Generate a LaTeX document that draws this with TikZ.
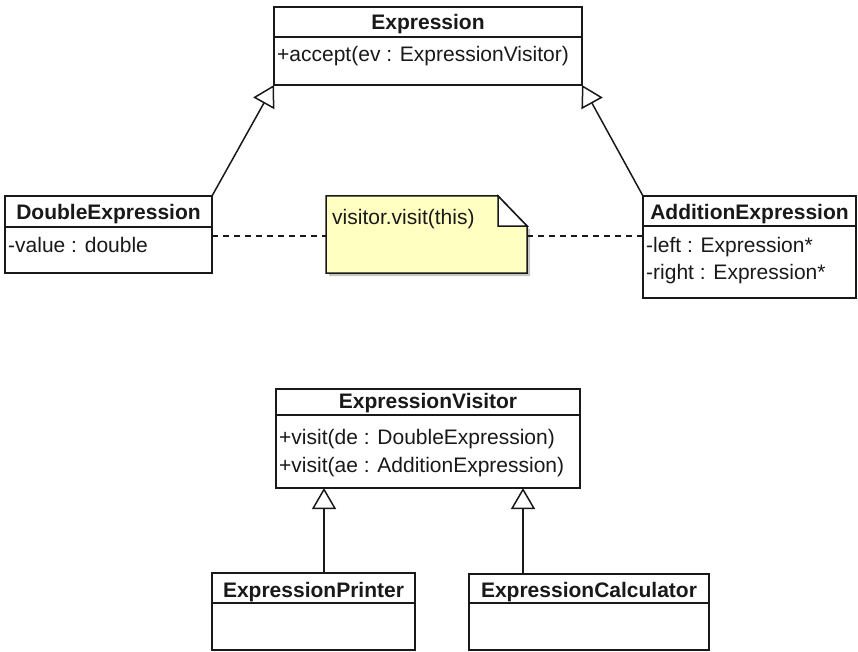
\documentclass[tikz,border=0pt]{standalone}
\usepackage{fontspec}
\setmainfont{Liberation Sans}
\usetikzlibrary{arrows.meta}
\definecolor{notefill}{RGB}{255,255,193}
\definecolor{ink}{RGB}{25,25,25}
\begin{document}
\begin{tikzpicture}[x=1pt,y=-1pt,
  umlbox/.style={draw=ink,line width=1.5pt,inner sep=0pt,outer sep=0pt,anchor=north west,fill=white},
  divider/.style={draw=ink,line width=1.5pt},
  classname/.style={font=\fontsize{21}{25}\selectfont\bfseries,text=ink,anchor=base,inner sep=0pt},
  member/.style={font=\fontsize{21}{25}\selectfont,text=ink,anchor=base west,inner sep=0pt},
  inherit/.style={draw=ink,-{Triangle[open,length=21pt,width=24pt,line width=1.5pt]},line width=1.5pt},
  notelink/.style={draw=ink,line width=1.5pt,dash pattern=on 6pt off 5pt}]
\useasboundingbox (0,0) rectangle (858,652);

% Expression
\node[umlbox,minimum width=308pt,minimum height=78pt] (expr) at (274,7) {};
\draw[divider] (274,37) -- (582,37);
\node[classname] (exprT) at (428,30) {Expression};
\node[member] (exprM) at (277,62) {+accept(ev : ExpressionVisitor)};

% DoubleExpression
\node[umlbox,minimum width=207pt,minimum height=77pt] (dbl) at (5,196) {};
\draw[divider] (5,227) -- (212,227);
\node[classname] (dblT) at (108.5,219) {DoubleExpression};
\node[member] (dblM) at (8,252) {-value : double};

% AdditionExpression
\node[umlbox,minimum width=213pt,minimum height=102pt] (add) at (643,196) {};
\draw[divider] (643,226) -- (856,226);
\node[classname] (addT) at (749.5,219) {AdditionExpression};
\node[member] (addM1) at (646,252) {-left : Expression*};
\node[member] (addM2) at (646,279) {-right : Expression*};

% note attached to both subclasses, with a faint drop shadow
\coordinate (noteW) at (326,236);
\coordinate (noteE) at (527,236);
\fill[gray!45] (329,199) -- (530,229) -- (530,276) -- (329,276) -- cycle;
\draw[draw=ink,line width=1.5pt,fill=notefill] (326,196) -- (498,196) -- (527,226) -- (527,273) -- (326,273) -- cycle;
\draw[draw=ink,line width=1.5pt,fill=white] (498,196) -- (498,226) -- (527,226) -- cycle;
\node[member] (noteT) at (332,225) {visitor.visit(this)};

% ExpressionVisitor
\node[umlbox,minimum width=304pt,minimum height=99pt] (vis) at (276,389) {};
\draw[divider] (276,415) -- (580,415);
\node[classname] (visT) at (428,408) {ExpressionVisitor};
\node[member] (visM1) at (279,444) {+visit(de : DoubleExpression)};
\node[member] (visM2) at (279,472) {+visit(ae : AdditionExpression)};

% ExpressionPrinter
\node[umlbox,minimum width=203pt,minimum height=77pt] (prn) at (212,573) {};
\draw[divider] (212,603) -- (415,603);
\node[classname] (prnT) at (313.5,597) {ExpressionPrinter};

% ExpressionCalculator
\node[umlbox,minimum width=240pt,minimum height=76pt] (calc) at (469,574) {};
\draw[divider] (469,603) -- (709,603);
\node[classname] (calcT) at (589,597) {ExpressionCalculator};

% generalizations
\draw[inherit] (dbl.north east) -- (expr.south west);
\draw[inherit] (add.north west) -- (expr.south east);
\draw[inherit] (prn.north -| 324,0) -- (vis.south -| 324,0);
\draw[inherit] (calc.north -| 523,0) -- (vis.south -| 523,0);

% note links
\draw[notelink] (dbl.east |- noteW) -- (noteW);
\draw[notelink] (noteE) -- (add.west |- noteE);
\end{tikzpicture}
\end{document}
